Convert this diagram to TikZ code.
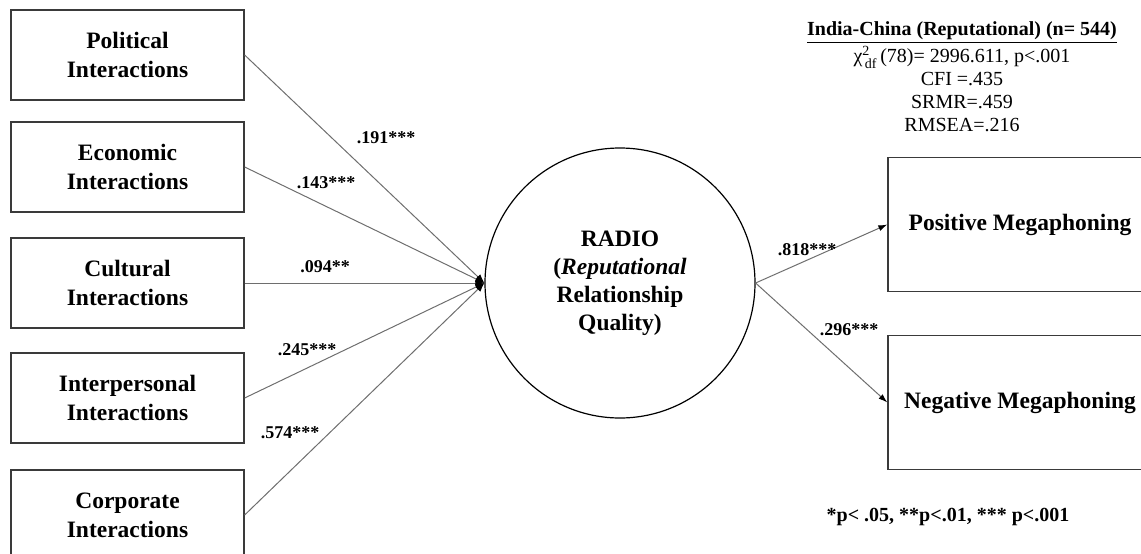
\documentclass[tikz,border=0pt]{standalone}
\usepackage{amsmath}
\usepackage{fontspec}
\setmainfont{Liberation Serif}
\usepackage{tikz}
\usetikzlibrary{arrows.meta}
\definecolor{boxgray}{HTML}{3A3A3A}
\definecolor{pathgray}{HTML}{6E6E6E}
\tikzset{
  varbox/.style={draw=boxgray,line width=1.3pt,minimum width=233pt,minimum height=90pt,
    inner sep=0pt,align=center,font=\bfseries\fontsize{23.5}{29}\selectfont},
  outbox/.style={varbox,minimum width=264pt,minimum height=134pt},
  latent/.style={circle,draw=black,line width=1.2pt,minimum size=270pt,inner sep=0pt,
    align=center,font=\bfseries\fontsize{23.5}{28}\selectfont},
  coef/.style={font=\bfseries\fontsize{18}{20}\selectfont,inner sep=0pt},
  path/.style={draw=pathgray,line width=1pt},
}

\begin{document}
\begin{tikzpicture}[x=1pt,y=-1pt,>={Latex[length=9pt,width=6pt]}]
\clip (0,0) rectangle (1141,554);
% predictors
\node[varbox] (pol) at (127.5,55)  {Political\\Interactions};
\node[varbox] (eco) at (127.5,167) {Economic\\Interactions};
\node[varbox] (cul) at (127.5,283) {Cultural\\Interactions};
\node[varbox] (ipr) at (127.5,398) {Interpersonal\\Interactions};
\node[varbox] (cor) at (127.5,515) {Corporate\\Interactions};
% latent variable
\node[latent] (radio) at (620,283) {RADIO\\(\textit{Reputational}\\Relationship\\Quality)};
% outcomes
\node[outbox] (pos) at (1020,224.5) {Positive Megaphoning};
\node[outbox] (neg) at (1020,402.5) {Negative Megaphoning};
% paths
\foreach \v in {pol,eco,cul,ipr,cor}
  \draw[path,-{Latex[length=9pt,width=7pt,fill=black,color=black]}] (\v.east) -- (radio.west);
\draw[path,-{Latex[length=9pt,width=6pt,color=black]}] (radio.east) -- (pos.west);
\draw[path,-{Latex[length=9pt,width=6pt,color=black]}] (radio.east) -- (neg.west);
% coefficients
\node[coef] (c1) at (386,138) {.191***};
\node[coef] (c2) at (326,183) {.143***};
\node[coef] (c3) at (325,267) {.094**};
\node[coef] (c4) at (307,350) {.245***};
\node[coef] (c5) at (290,433) {.574***};
\node[coef] (c6) at (807,250) {.818***};
\node[coef] (c7) at (849,330) {.296***};
% fit indices
\node[align=center,font=\fontsize{20}{23}\selectfont,inner sep=0pt] (fit) at (962,77)
  {\textbf{\underline{India-China (Reputational) (n= 544)}}\\[1pt]
   χ$^{\text{2}}_{\,\text{df}}$\,(78)= 2996.611, p<.001\\
   CFI =.435\\
   SRMR=.459\\
   RMSEA=.216};
\node[font=\bfseries\fontsize{20}{22}\selectfont,inner sep=0pt] (sig) at (948,517)
  {*p< .05, **p<.01, *** p<.001};
\end{tikzpicture}
\end{document}
